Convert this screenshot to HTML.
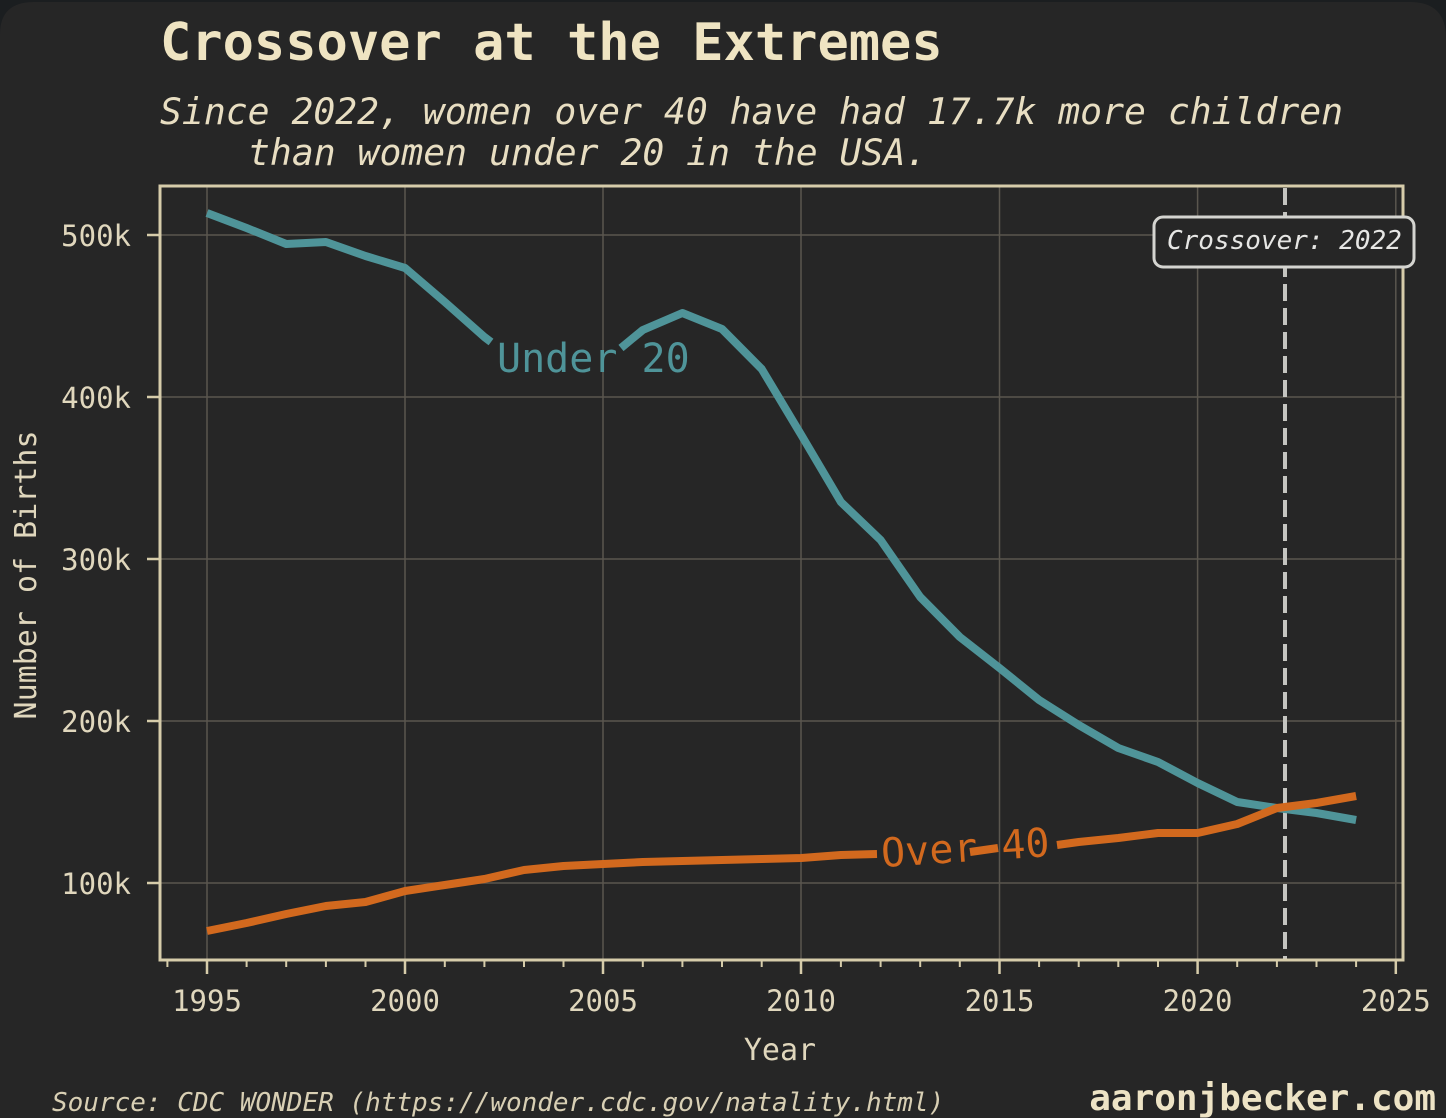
<!DOCTYPE html>
<html><head><meta charset="utf-8"><style>
html,body{margin:0;padding:0;background:#1b1e20;}
svg{display:block;}
text{font-family:"DejaVu Sans Mono","Liberation Mono",monospace;}
</style></head><body>
<svg width="1446" height="1118" viewBox="0 0 1446 1118" xmlns="http://www.w3.org/2000/svg">
<path d="M0,34 Q0,2 34,2 L1410,2 Q1446,2 1446,38 L1446,1118 L0,1118 Z" fill="#262626"/>
<g stroke="#5a564e" stroke-width="1.5">
<line x1="160" y1="235" x2="1403" y2="235"/>
<line x1="160" y1="397" x2="1403" y2="397"/>
<line x1="160" y1="559" x2="1403" y2="559"/>
<line x1="160" y1="721" x2="1403" y2="721"/>
<line x1="160" y1="883" x2="1403" y2="883"/>
<line x1="207" y1="186" x2="207" y2="960"/>
<line x1="405" y1="186" x2="405" y2="960"/>
<line x1="603" y1="186" x2="603" y2="960"/>
<line x1="801" y1="186" x2="801" y2="960"/>
<line x1="999.5" y1="186" x2="999.5" y2="960"/>
<line x1="1197.6" y1="186" x2="1197.6" y2="960"/>
<line x1="1395.8" y1="186" x2="1395.8" y2="960"/>
</g>
<line x1="1285" y1="188" x2="1285" y2="959" stroke="#c4c4c0" stroke-width="4" stroke-dasharray="17,7"/>
<g fill="none" stroke="#4f9499" stroke-width="8" stroke-linejoin="round">
<polyline points="207,213 246.6,228 286.2,244 325.9,242 365.5,256 405.1,268 444.8,302 484.4,337 491,342"/>
<polyline points="621,348 642.8,330 682.4,313 722,329 761.7,369 801.3,435 840.9,502 880.6,540 920.2,597 959.8,637 999.5,668 1039.1,700 1078.7,725 1118.3,748 1158,762 1197.6,783 1237.2,802 1276.9,808 1316.5,813 1356.1,820"/>
</g>
<g fill="none" stroke="#d2691e" stroke-width="8" stroke-linejoin="round">
<polyline points="207,931 246.6,923 286.2,914 325.9,906 365.5,902 405.1,891 444.8,885 484.4,879 524,870 563.5,866 603.2,864 642.8,862 682.4,861 722,860 761.7,859 801.3,858 840.9,855 877,854"/>
<polyline points="970,852 998,848"/>
<polyline points="1057,845 1078.7,842 1118.3,838 1158,833 1197.6,833 1237.2,824 1276.9,808 1316.5,803 1356.1,796"/>
</g>
<text x="497" y="372" font-size="40" fill="#4f9499">Under 20</text>
<text x="882" y="867" font-size="40" fill="#d2691e" transform="rotate(-3.7 882 867)">Over 40</text>
<rect x="160" y="186" width="1243" height="774" fill="none" stroke="#d6ccaa" stroke-width="3"/>
<g stroke="#d6ccaa" stroke-width="2.5">
<line x1="147" y1="235" x2="160" y2="235"/>
<line x1="147" y1="397" x2="160" y2="397"/>
<line x1="147" y1="559" x2="160" y2="559"/>
<line x1="147" y1="721" x2="160" y2="721"/>
<line x1="147" y1="883" x2="160" y2="883"/>
<line x1="207" y1="960" x2="207" y2="974"/>
<line x1="405" y1="960" x2="405" y2="974"/>
<line x1="603" y1="960" x2="603" y2="974"/>
<line x1="801" y1="960" x2="801" y2="974"/>
<line x1="999.5" y1="960" x2="999.5" y2="974"/>
<line x1="1197.6" y1="960" x2="1197.6" y2="974"/>
<line x1="1395.8" y1="960" x2="1395.8" y2="974"/>
</g>
<g stroke="#d6ccaa" stroke-width="2">
<line x1="167.4" y1="960" x2="167.4" y2="967"/>
<line x1="246.6" y1="960" x2="246.6" y2="967"/><line x1="286.2" y1="960" x2="286.2" y2="967"/><line x1="325.9" y1="960" x2="325.9" y2="967"/><line x1="365.5" y1="960" x2="365.5" y2="967"/>
<line x1="444.8" y1="960" x2="444.8" y2="967"/><line x1="484.4" y1="960" x2="484.4" y2="967"/><line x1="524" y1="960" x2="524" y2="967"/><line x1="563.5" y1="960" x2="563.5" y2="967"/>
<line x1="642.8" y1="960" x2="642.8" y2="967"/><line x1="682.4" y1="960" x2="682.4" y2="967"/><line x1="722" y1="960" x2="722" y2="967"/><line x1="761.7" y1="960" x2="761.7" y2="967"/>
<line x1="840.9" y1="960" x2="840.9" y2="967"/><line x1="880.6" y1="960" x2="880.6" y2="967"/><line x1="920.2" y1="960" x2="920.2" y2="967"/><line x1="959.8" y1="960" x2="959.8" y2="967"/>
<line x1="1039.1" y1="960" x2="1039.1" y2="967"/><line x1="1078.7" y1="960" x2="1078.7" y2="967"/><line x1="1118.3" y1="960" x2="1118.3" y2="967"/><line x1="1158" y1="960" x2="1158" y2="967"/>
<line x1="1237.2" y1="960" x2="1237.2" y2="967"/><line x1="1276.9" y1="960" x2="1276.9" y2="967"/><line x1="1316.5" y1="960" x2="1316.5" y2="967"/><line x1="1356.1" y1="960" x2="1356.1" y2="967"/>
</g>
<g font-size="29" fill="#e0d7bd" text-anchor="end">
<text x="131" y="246">500k</text>
<text x="131" y="408">400k</text>
<text x="131" y="570">300k</text>
<text x="131" y="732">200k</text>
<text x="131" y="894">100k</text>
</g>
<g font-size="29" fill="#e0d7bd" text-anchor="middle">
<text x="207" y="1011">1995</text>
<text x="405" y="1011">2000</text>
<text x="603" y="1011">2005</text>
<text x="801" y="1011">2010</text>
<text x="999.5" y="1011">2015</text>
<text x="1197.6" y="1011">2020</text>
<text x="1395.8" y="1011">2025</text>
<text x="780" y="1060" font-size="30">Year</text>
<text x="0" y="0" font-size="30" transform="translate(36 575) rotate(-90)">Number of Births</text>
</g>
<rect x="1154" y="217" width="260" height="50" rx="9" fill="#262626" stroke="#d4d4d0" stroke-width="3"/>
<text x="1167" y="249" font-size="26" font-style="italic" fill="#e6e6e4">Crossover: 2022</text>
<text x="160" y="60" font-size="52" font-weight="bold" fill="#efe4c2">Crossover at the Extremes</text>
<text font-size="36.4" font-style="italic" fill="#e8dec2"><tspan x="160" y="124">Since 2022, women over 40 have had 17.7k more children</tspan><tspan x="248" y="165">than women under 20 in the USA.</tspan></text>
<text x="52" y="1111" font-size="26" font-style="italic" fill="#d8cfb4">Source: CDC WONDER (https://wonder.cdc.gov/natality.html)</text>
<text x="1436" y="1110" font-size="36" font-weight="bold" fill="#ede3c5" text-anchor="end">aaronjbecker.com</text>
</svg>
</body></html>
